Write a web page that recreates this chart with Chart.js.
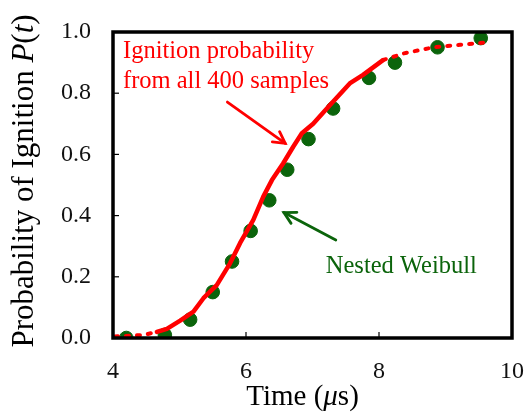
<!DOCTYPE html>
<html>
<head>
<meta charset="utf-8">
<script src="https://cdn.jsdelivr.net/npm/chart.js@4.4.1/dist/chart.umd.min.js"></script>
<style>
  body { margin: 0; background: #fff; }
  #wrap { width: 525px; height: 416px; }
</style>
</head>
<body>
<div id="wrap"><canvas id="probChart" width="525" height="416"></canvas></div>
<script>
// Nested Weibull model points
var weibullTime = [4.2, 4.78, 5.16, 5.5, 5.79, 6.07, 6.35, 6.62, 6.94, 7.31, 7.85, 8.24, 8.88, 9.53];
var weibullProb = [0.0, 0.01, 0.06, 0.15, 0.25, 0.35, 0.45, 0.55, 0.65, 0.75, 0.85, 0.90, 0.95, 0.98];

// empirical ignition probability, all 400 samples (solid middle part)
var sampleTime = [4.66, 4.81, 5.01, 5.21, 5.36, 5.56, 5.76, 5.91, 6.11, 6.26, 6.39, 6.56, 6.71, 6.84, 7.01, 7.26, 7.56, 7.76, 8.06];
var sampleProb = [0.02, 0.03, 0.057, 0.086, 0.13, 0.173, 0.244, 0.31, 0.386, 0.462, 0.516, 0.571, 0.625, 0.669, 0.70, 0.761, 0.832, 0.86, 0.908];

// sparse tails, drawn dotted
var lowTailTime = [4.03, 4.46, 4.66];
var lowTailProb = [0.005, 0.01, 0.02];
var highTailTime = [8.06, 8.37, 8.82, 9.22, 9.62];
var highTailProb = [0.908, 0.93, 0.95, 0.958, 0.966];

var xTicks = [4, 6, 8, 10];
var yTicks = [0, 0.2, 0.4, 0.6, 0.8, 1.0];

var RED = "#ff0000";
var GREEN = "#0b640b";
var SERIF = "'Liberation Serif', 'Times New Roman', serif";

function toPoints(xs, ys) {
    return xs.map(function (x, i) { return { x: x, y: ys[i] }; });
}

// box, inward ticks, axis titles and the two labelled arrows
var decorations = {
    id: "decorations",
    afterDatasetsDraw: function (chart) {
        var ctx = chart.ctx;
        var a = chart.chartArea;
        var xs = chart.scales.x;
        var ys = chart.scales.y;
        ctx.save();

        ctx.strokeStyle = "#000";
        ctx.lineWidth = 1.2;
        xTicks.slice(1, -1).forEach(function (v) {
            var px = xs.getPixelForValue(v);
            ctx.beginPath();
            ctx.moveTo(px, a.bottom);
            ctx.lineTo(px, a.bottom - 6);
            ctx.stroke();
        });
        yTicks.slice(1, -1).forEach(function (v) {
            var py = ys.getPixelForValue(v);
            ctx.beginPath();
            ctx.moveTo(a.left, py);
            ctx.lineTo(a.left + 6, py);
            ctx.stroke();
        });

        ctx.lineWidth = 3.5;
        ctx.strokeRect(a.left, a.top, a.right - a.left, a.bottom - a.top);

        // axis titles with italic symbols
        drawRuns(ctx, [["Time (", false], ["\u03bc", true], ["s)", false]],
            (a.left + a.right) / 2 - 10, 397, 29, "#000", 0);
        drawRuns(ctx, [["Probability of Ignition ", false], ["P", true], ["(", false], ["t", true], [")", false]],
            25, (a.top + a.bottom) / 2 - 4, 31, "#000", -Math.PI / 2);

        // annotations
        ctx.font = "24.5px " + SERIF;
        ctx.textBaseline = "alphabetic";
        ctx.textAlign = "left";
        ctx.fillStyle = RED;
        ctx.fillText("Ignition probability", xs.getPixelForValue(4.15), ys.getPixelForValue(0.915));
        ctx.fillText("from all 400 samples", xs.getPixelForValue(4.15), ys.getPixelForValue(0.817));
        ctx.fillStyle = GREEN;
        ctx.fillText("Nested Weibull", xs.getPixelForValue(7.2), ys.getPixelForValue(0.212));

        arrow(ctx, xs, ys, 5.72, 0.771, 6.59, 0.636, RED);
        arrow(ctx, xs, ys, 7.35, 0.32, 6.57, 0.41, GREEN);

        ctx.restore();
    }
};

function drawRuns(ctx, runs, cx, cy, size, color, rot) {
    ctx.save();
    ctx.translate(cx, cy);
    ctx.rotate(rot);
    ctx.fillStyle = color;
    ctx.textBaseline = "middle";
    ctx.textAlign = "left";
    var total = 0;
    runs.forEach(function (r) {
        ctx.font = (r[1] ? "italic " : "") + size + "px " + SERIF;
        total += ctx.measureText(r[0]).width;
    });
    var x = -total / 2;
    runs.forEach(function (r) {
        ctx.font = (r[1] ? "italic " : "") + size + "px " + SERIF;
        ctx.fillText(r[0], x, 0);
        x += ctx.measureText(r[0]).width;
    });
    ctx.restore();
}

function arrow(ctx, xs, ys, x0, y0, x1, y1, color) {
    var ax = xs.getPixelForValue(x0), ay = ys.getPixelForValue(y0);
    var bx = xs.getPixelForValue(x1), by = ys.getPixelForValue(y1);
    var ang = Math.atan2(by - ay, bx - ax);
    var head = 13;
    ctx.strokeStyle = color;
    ctx.lineWidth = 2.8;
    ctx.lineCap = "round";
    ctx.lineJoin = "miter";
    ctx.beginPath();
    ctx.moveTo(ax, ay);
    ctx.lineTo(bx, by);
    ctx.stroke();
    ctx.beginPath();
    ctx.moveTo(bx - head * Math.cos(ang - 0.5), by - head * Math.sin(ang - 0.5));
    ctx.lineTo(bx, by);
    ctx.lineTo(bx - head * Math.cos(ang + 0.5), by - head * Math.sin(ang + 0.5));
    ctx.stroke();
}

function noEdgePadding(scale) {
    scale.paddingLeft = 0;
    scale.paddingRight = 0;
    scale.paddingTop = 0;
    scale.paddingBottom = 0;
}

var ctx = document.getElementById("probChart").getContext("2d");
var myChart = new Chart(ctx, {
    type: "scatter",
    data: {
        datasets: [
            {
                label: "Ignition probability",
                data: toPoints(sampleTime, sampleProb),
                showLine: true,
                borderColor: RED,
                borderWidth: 4.5,
                borderCapStyle: "round",
                borderJoinStyle: "round",
                pointRadius: 0,
                tension: 0,
                order: 1,
            },
            {
                label: "low tail",
                data: toPoints(lowTailTime, lowTailProb),
                showLine: true,
                borderColor: RED,
                borderWidth: 4,
                borderDash: [3, 8],
                borderCapStyle: "round",
                pointRadius: 0,
                order: 1,
            },
            {
                label: "high tail",
                data: toPoints(highTailTime, highTailProb),
                showLine: true,
                borderColor: RED,
                borderWidth: 4,
                borderDash: [3, 8],
                borderCapStyle: "round",
                pointRadius: 0,
                order: 1,
            },
            {
                label: "Nested Weibull",
                data: toPoints(weibullTime, weibullProb),
                backgroundColor: GREEN,
                borderColor: GREEN,
                pointRadius: 6.8,
                pointHoverRadius: 6.8,
                order: 2,
            },
        ],
    },
    options: {
        responsive: false,
        animation: false,
        events: [],
        layout: { padding: { top: 32, right: 13, left: 0, bottom: 0 } },
        plugins: {
            legend: { display: false },
            tooltip: { enabled: false },
        },
        scales: {
            x: {
                type: "linear",
                min: 4,
                max: 10,
                afterBuildTicks: function (scale) {
                    scale.ticks = xTicks.map(function (v) { return { value: v }; });
                },
                afterFit: function (scale) {
                    scale.height = 78;
                    noEdgePadding(scale);
                },
                grid: { display: false, drawTicks: false },
                border: { display: false },
                ticks: {
                    padding: 19,
                    color: "#111",
                    font: { family: SERIF, size: 24 },
                    maxRotation: 0,
                },
            },
            y: {
                type: "linear",
                min: 0,
                max: 1,
                afterBuildTicks: function (scale) {
                    scale.ticks = yTicks.map(function (v) { return { value: v }; });
                },
                afterFit: function (scale) {
                    scale.width = 113;
                    noEdgePadding(scale);
                },
                grid: { display: false, drawTicks: false },
                border: { display: false },
                ticks: {
                    padding: 22,
                    color: "#111",
                    font: { family: SERIF, size: 24 },
                    callback: function (v) { return v.toFixed(1); },
                },
            },
        },
    },
    plugins: [decorations],
});
</script>
</body>
</html>
